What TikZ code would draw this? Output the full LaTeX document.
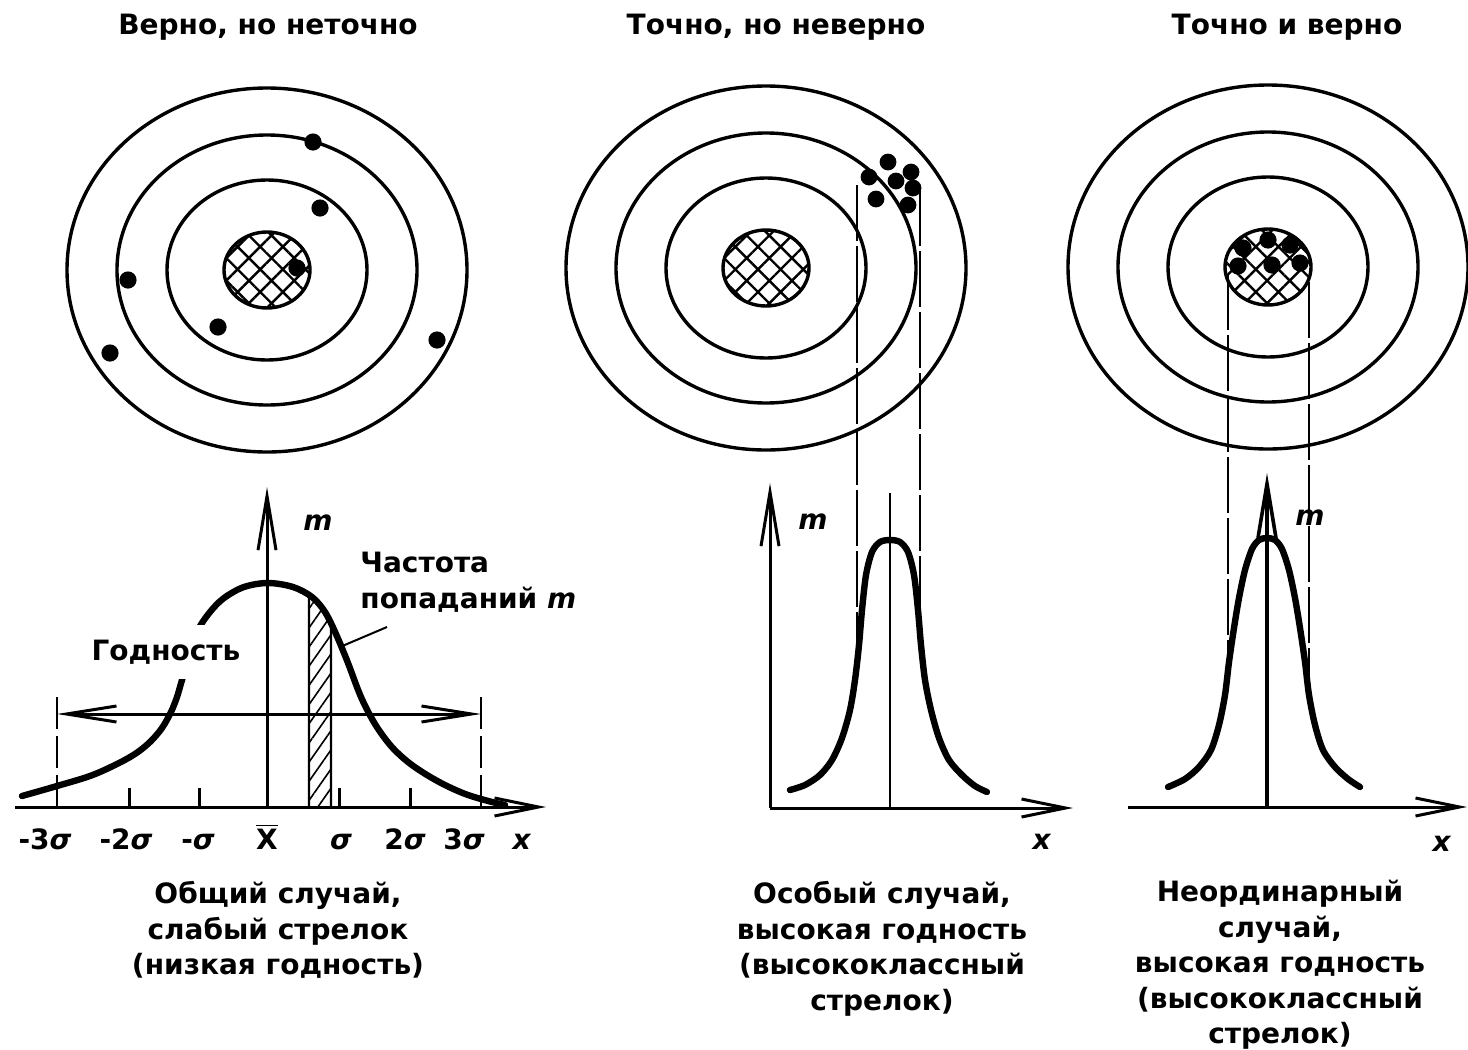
\documentclass[tikz,border=0pt]{standalone}
\usepackage{fontspec}
\setmainfont{DejaVu Sans}
\usetikzlibrary{arrows.meta,patterns.meta}
\tikzset{
  txt/.style={font=\fontsize{14}{17.75}\selectfont\bfseries, inner sep=0pt},
  axlbl/.style={txt, anchor=base},
  ring/.style={line width=1.7pt},
  axis/.style={line width=1.5pt},
  thinax/.style={line width=1.1pt},
  curve/.style={line width=3.2pt, line join=round, line cap=round},
  dashline/.style={line width=1.3pt, dash pattern=on 28pt off 2.5pt},
  dashline1/.style={line width=1.3pt, dash pattern=on 16pt off 3.5pt},
  hit/.style={fill=black},
  bull/.style={ring, pattern={Hatch[angle=45,distance=8pt,line width=1.2pt]}},
  tipY/.style={-{Straight Barb[length=27pt,width=9pt]}},
  tipX/.style={-{Straight Barb[length=22pt,width=9pt]}},
  tipH/.style={{Straight Barb[length=25pt,width=8pt]}-{Straight Barb[length=25pt,width=8pt]}},
}
\begin{document}
\begin{tikzpicture}[x=0.5pt,y=-0.5pt]
\path[use as bounding box, fill=white] (0,0) rectangle (1468,1050);

% titles
\node[txt] (t1) at (268,27) {Верно, но неточно};
\node[txt] (t2) at (776,27) {Точно, но неверно};
\node[txt] (t3) at (1287,27) {Точно и верно};

% targets
\foreach \cx/\cy/\n in {267/270/1, 766/268/2, 1268/267/3}{
  \coordinate (c\n) at (\cx,\cy);
  \draw[ring] (c\n) ellipse [x radius=100pt, y radius=91pt];
  \draw[ring] (c\n) ellipse [x radius=75pt, y radius=67.5pt];
  \draw[ring] (c\n) ellipse [x radius=50pt, y radius=45pt];
  \draw[bull] (c\n) ellipse [x radius=21.5pt, y radius=19pt];
}
% hits
\foreach \p in {(313,142),(320,208),(128,280),(297,268),(218,327),(110,353),(437,340)}
  \fill[hit] \p circle[radius=4.3pt];
\foreach \p in {(888,162),(869,177),(911,172),(896,181),(913,188),(876,199),(908,205)}
  \fill[hit] \p circle[radius=4.2pt];
\foreach \p in {(1243,248),(1268,240),(1290,245),(1300,263),(1272,265),(1238,266)}
  \fill[hit] \p circle[radius=4.3pt];

% ---------- chart 1 ----------
\coordinate (o1) at (267,807);
\coordinate (x1s) at (15,807);
\coordinate (x1e) at (546,807);
\coordinate (y1e) at (267,487);
\draw[axis, tipX] (x1s) -- (x1e);
\draw[axis, tipY] (o1) -- (y1e);
\foreach \tx in {129,199,339,410} \draw[axis] (\tx,807) -- (\tx,788);
\coordinate (d1a) at (57,697); \coordinate (d1b) at (57,807);
\coordinate (d1c) at (481,697); \coordinate (d1d) at (481,807);
\draw[dashline1] (d1a) -- (d1b);
\draw[dashline1] (d1c) -- (d1d);
\coordinate (h1) at (57,714); \coordinate (h2) at (481,714);
\draw[axis, tipH] (h1) -- (h2);
% hatched strip
\draw[line width=1.2pt, pattern={Lines[angle=55,distance=5.5pt,line width=0.8pt]}]
  (309,807) -- (309,594) -- (320,606) -- (331,626) -- (331,807);
% curve
\draw[curve] plot[smooth, tension=0.55] coordinates {(22,796) (57,786) (90,776) (115,765) (135,754) (150,742) (162,728) (171,712) (177,697) (182,680) (190,654) (198,630) (210,612) (224,598) (244,587) (268,583) (293,587) (312,597) (325,612) (336,634) (348,663) (361,697) (375,724) (391,746) (408,762) (427,775) (447,786) (468,795) (492,802) (505,805)};
\node[txt, fill=white, inner xsep=2pt, inner ysep=7.5pt] (god) at (166,652) {Годность};
\node[txt] (m1) at (318,523) {\textit{m}};
\node[txt, align=left, anchor=west] (freq) at (360,582) {Частота\\попаданий \textit{m}};
\coordinate (ls) at (340,647); \coordinate (le) at (387,627);
\draw[line width=1pt] (ls) -- (le);
\node[axlbl] (l1) at (45,849) {-3\textit{σ}};
\node[axlbl] (l2) at (126,849) {-2\textit{σ}};
\node[axlbl] (l3) at (198,849) {-\textit{σ}};
\node[axlbl] (l4) at (267,849) {$\overline{\hbox{X}}$};
\node[axlbl] (l5) at (341,849) {\textit{σ}};
\node[axlbl] (l6) at (405,849) {2\textit{σ}};
\node[axlbl] (l7) at (464,849) {3\textit{σ}};
\node[axlbl] (l8) at (522,849) {\textit{x}};

% ---------- chart 2 ----------
\coordinate (o2) at (770,808);
\coordinate (x2e) at (1073,808);
\coordinate (y2e) at (770,483);
\draw[axis, tipX] (o2) -- (x2e);
\draw[axis, tipY] (o2) -- (y2e);
\coordinate (c2a) at (890,493); \coordinate (c2b) at (890,808);
\draw[thinax] (c2a) -- (c2b);
\coordinate (d2a) at (857,185); \coordinate (d2b) at (857,660);
\coordinate (d2c) at (920,190); \coordinate (d2d) at (920,615);
\draw[dashline] (d2a) -- (d2b);
\draw[dashline] (d2c) -- (d2d);
\draw[curve] plot[smooth, tension=0.5] coordinates {(790,790) (805,785) (820,775) (832,760) (842,738) (850,710) (855,680) (859,645) (862,610) (866,575) (872,552) (880,542) (890,540) (900,542) (908,552) (914,575) (918,610) (921,645) (925,680) (931,710) (939,738) (949,760) (962,775) (975,786) (987,792)};
\node[txt] (m2) at (813,522) {\textit{m}};
\node[axlbl] (x2) at (1042,849) {\textit{x}};

% ---------- chart 3 ----------
\coordinate (o3) at (1267,807);
\coordinate (x3s) at (1128,807);
\coordinate (x3e) at (1467,807);
\coordinate (y3e) at (1267,473);
\draw[axis, tipX] (x3s) -- (x3e);
\draw[axis, line width=1.8pt, tipY] (o3) -- (y3e);
\coordinate (d3a) at (1228,274); \coordinate (d3b) at (1228,685);
\coordinate (d3c) at (1309,282); \coordinate (d3d) at (1309,695);
\draw[dashline] (d3a) -- (d3b);
\draw[dashline] (d3c) -- (d3d);
\draw[curve] plot[smooth, tension=0.5] coordinates {(1168,787) (1185,779) (1199,767) (1211,750) (1219,725) (1225,695) (1229,662) (1234,628) (1239,598) (1245,570) (1252,549) (1259,540) (1267,538) (1275,540) (1282,549) (1289,570) (1295,598) (1300,628) (1305,662) (1309,695) (1315,725) (1323,750) (1335,767) (1348,779) (1360,787)};
\node[txt] (m3) at (1310,518) {\textit{m}};
\node[axlbl] (x3) at (1442,851) {\textit{x}};

% captions
\node[txt, align=center] (cap1) at (278,930) {Общий случай,\\слабый стрелок\\(низкая годность)};
\node[txt, align=center] (cap2) at (882,949) {Особый случай,\\высокая годность\\(высококлассный\\стрелок)};
\node[txt, align=center] (cap3) at (1280,965) {Неординарный\\случай,\\высокая годность\\(высококлассный\\стрелок)};
\end{tikzpicture}
\end{document}
